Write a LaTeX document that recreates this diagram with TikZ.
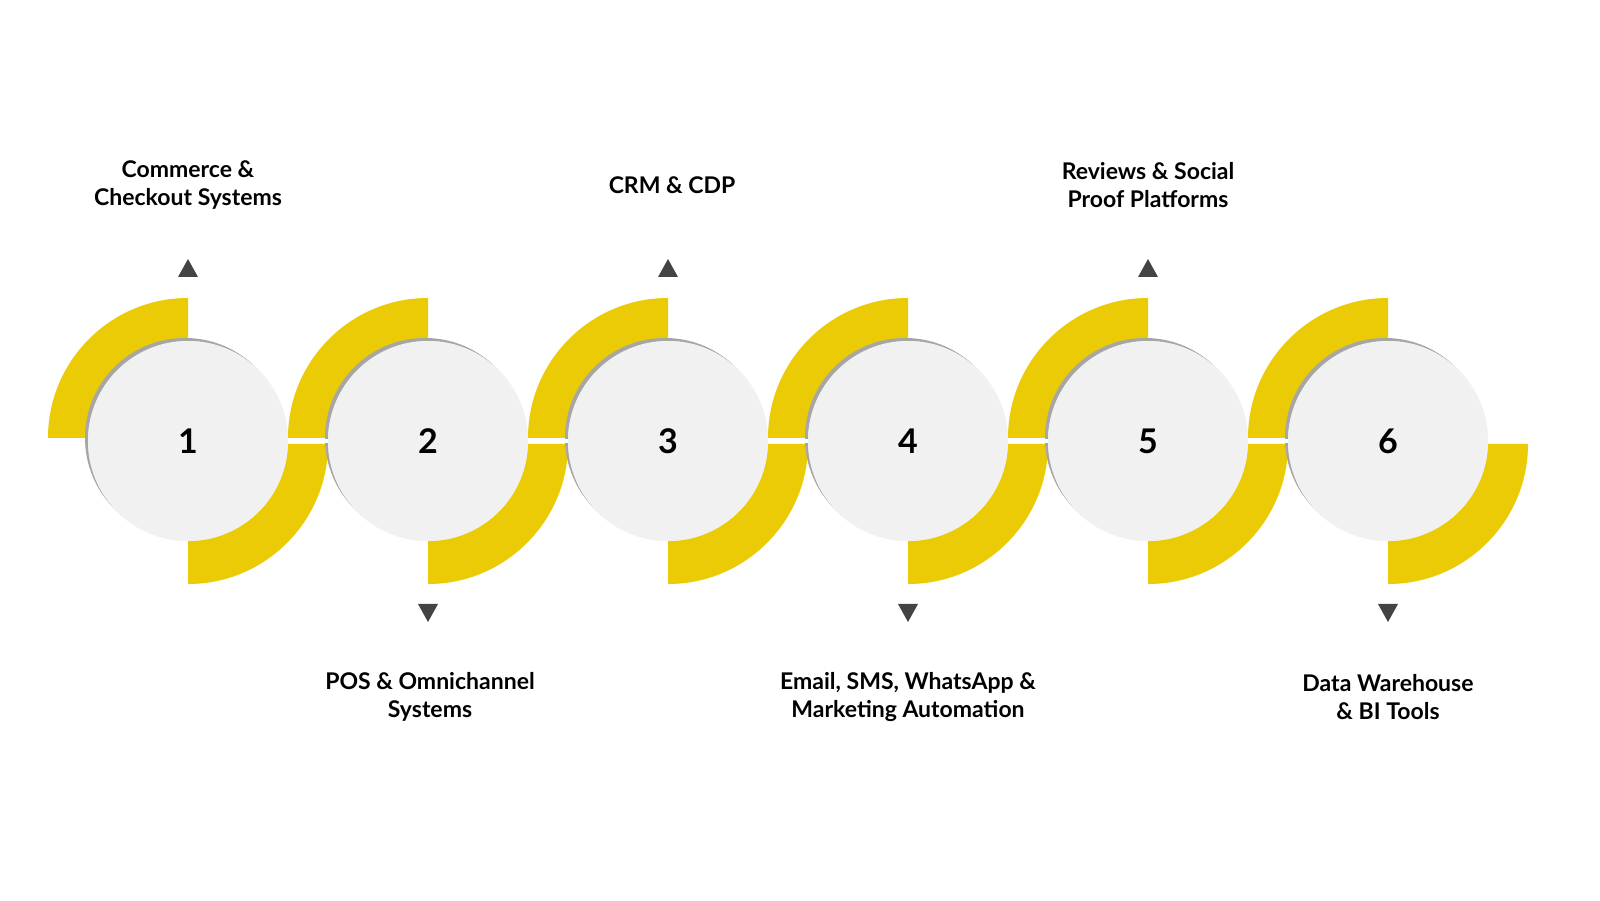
\documentclass[tikz,border=0pt]{standalone}
\usepackage{fontspec}
\setmainfont{Lato}
\usepackage{tikz}
\definecolor{stepyellow}{HTML}{EACB05}
\definecolor{discgray}{HTML}{F1F1F1}
\definecolor{markgray}{HTML}{444444}
\tikzset{
  stepdisc/.style={circle, minimum size=200pt, fill=discgray, inner sep=0pt,
    font=\fontsize{34}{40}\selectfont\bfseries},
  steptext/.style={align=center, font=\fontsize{23}{28}\selectfont\bfseries}
}
\begin{document}
\begin{tikzpicture}[x=1pt, y=1pt]
    \useasboundingbox (0, 0) rectangle (1600, 900);
    \fill[white] (0, 0) rectangle (1600, 900);

    % draw yellow quarter rings
    \foreach \cx in {188, 428, 668, 908, 1148, 1388} {
        \fill[stepyellow] (\cx, 462) -- ++(-140, 0) arc[start angle=180, end angle=90, radius=140] -- cycle;
        \fill[stepyellow] (\cx, 456) -- ++(0, -140) arc[start angle=-90, end angle=0, radius=140] -- cycle;
    }

    % draw discs
    \foreach \n/\cx in {1/188, 2/428, 3/668, 4/908, 5/1148, 6/1388} {
        \fill[black!35] (\cx-3, 462) circle (100);
        \node[stepdisc] (c\n) at (\cx, 459) {};
    }

    % white joints
    \foreach \a/\b in {1/2, 2/3, 3/4, 4/5, 5/6}
        \draw[white, line width=4pt] (c\a) -- (c\b);
    \foreach \n in {1,...,6} \node[stepdisc] at (c\n) {\n};

    % draw markers
    \foreach \cx in {188, 668, 1148}
        \fill[markgray] (\cx-10, 623) -- (\cx+10, 623) -- (\cx, 641) -- cycle;
    \foreach \cx in {428, 908, 1388}
        \fill[markgray] (\cx-10, 296) -- (\cx+10, 296) -- (\cx, 278) -- cycle;

    % draw labels
    \node[steptext] (t1) at (188, 715) {Commerce \&\\Checkout Systems};
    \node[steptext] (t3) at (672, 715) {CRM \& CDP};
    \node[steptext] (t5) at (1148, 715) {Reviews \& Social\\Proof Platforms};
    \node[steptext] (t2) at (430, 203) {POS \& Omnichannel\\Systems};
    \node[steptext] (t4) at (908, 203) {Email, SMS, WhatsApp \&\\Marketing Automation};
    \node[steptext] (t6) at (1388, 203) {Data Warehouse\\\& BI Tools};
\end{tikzpicture}
\end{document}
